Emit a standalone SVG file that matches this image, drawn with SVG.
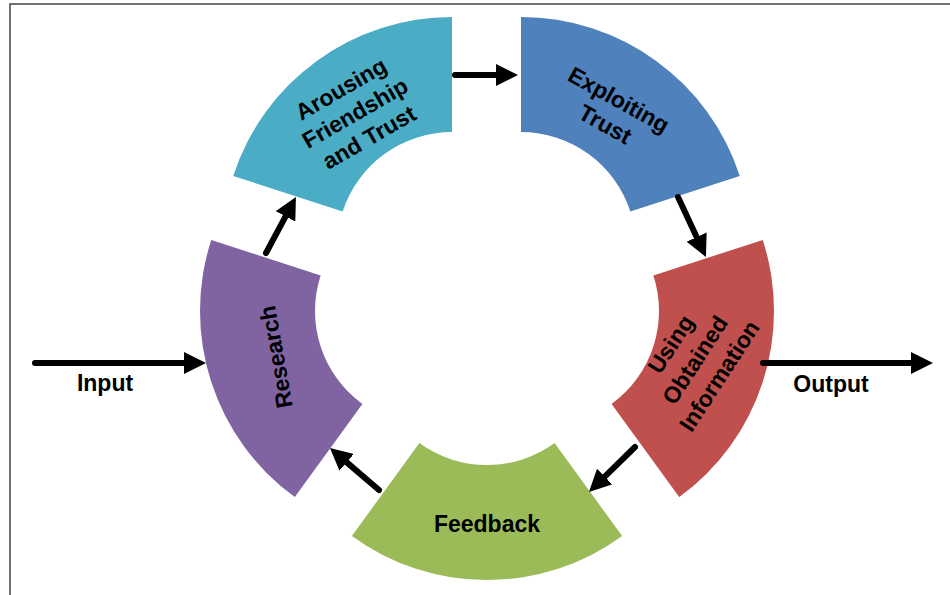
<svg xmlns="http://www.w3.org/2000/svg" width="950" height="595" viewBox="0 0 950 595">
<style>
.lbl{font-family:"Liberation Sans",Arial,Helvetica,sans-serif;font-weight:bold;font-size:23px;fill:#000;text-anchor:middle}
.arr{fill:none;stroke:#000;stroke-width:6;stroke-linecap:round;marker-end:url(#ah)}
</style>
<defs>
<marker id="ah" markerUnits="userSpaceOnUse" viewBox="0 0 22 22" markerWidth="22" markerHeight="22" refX="6" refY="11" orient="auto">
<path d="M0,0 L22,11 L0,22 Z" fill="#000"/>
</marker>
</defs>
<rect width="950" height="595" fill="#fff"/>
<path d="M10,595 V4 H950" fill="none" stroke="#444" stroke-width="1.5"/>
<g id="arousing">
<path d="M452,17 A230,230 0 0 0 233.26,175.93 L342.63,211.46 A115,115 0 0 1 452,132 Z" fill="#4BACC6"/>
<text class="lbl" transform="translate(355,113) rotate(-30)"><tspan x="0" y="-20">Arousing</tspan><tspan x="0" y="8">Friendship</tspan><tspan x="0" y="36">and Trust</tspan></text>
</g>
<g id="exploiting">
<path d="M521,17 A230,230 0 0 1 739.74,175.93 L630.37,211.46 A115,115 0 0 0 521,132 Z" fill="#4F81BD"/>
<text class="lbl" transform="translate(612,112) rotate(29)"><tspan x="0" y="-6">Exploiting</tspan><tspan x="0" y="22">Trust</tspan></text>
</g>
<g id="using">
<path d="M762.74,239.93 A230,230 0 0 1 679.19,497.07 L611.6,404.04 A115,115 0 0 0 653.37,275.46 Z" fill="#C0504D"/>
<text class="lbl" transform="translate(695,360) rotate(-57)"><tspan x="0" y="-21">Using</tspan><tspan x="0" y="8">Obtained</tspan><tspan x="0" y="37">Information</tspan></text>
</g>
<g id="feedback">
<path d="M622.19,536.07 A230,230 0 0 1 351.81,536.07 L419.4,443.04 A115,115 0 0 0 554.6,443.04 Z" fill="#9BBB59"/>
<text class="lbl" x="487" y="532">Feedback</text>
</g>
<g id="research">
<path d="M294.81,497.07 A230,230 0 0 1 211.26,239.93 L320.63,275.46 A115,115 0 0 0 362.4,404.04 Z" fill="#8064A2"/>
<text class="lbl" transform="translate(276,357) rotate(-100)" x="0" y="8">Research</text>
</g>
<g id="input">
<text class="lbl" x="105" y="391">Input</text>
</g>
<g id="output">
<text class="lbl" x="831" y="392">Output</text>
</g>
<g id="connectors">
<line class="arr" x1="455" y1="75" x2="502" y2="75"/>
<line class="arr" x1="678" y1="197" x2="699.2" y2="242.5"/>
<line class="arr" x1="635" y1="447" x2="600.4" y2="480.8"/>
<line class="arr" x1="379" y1="490" x2="342.1" y2="458.4"/>
<line class="arr" x1="266" y1="253" x2="288.4" y2="211.1"/>
<line class="arr" x1="35" y1="363" x2="190" y2="363"/>
<line class="arr" x1="763" y1="363" x2="917" y2="363"/>
</g>
</svg>
